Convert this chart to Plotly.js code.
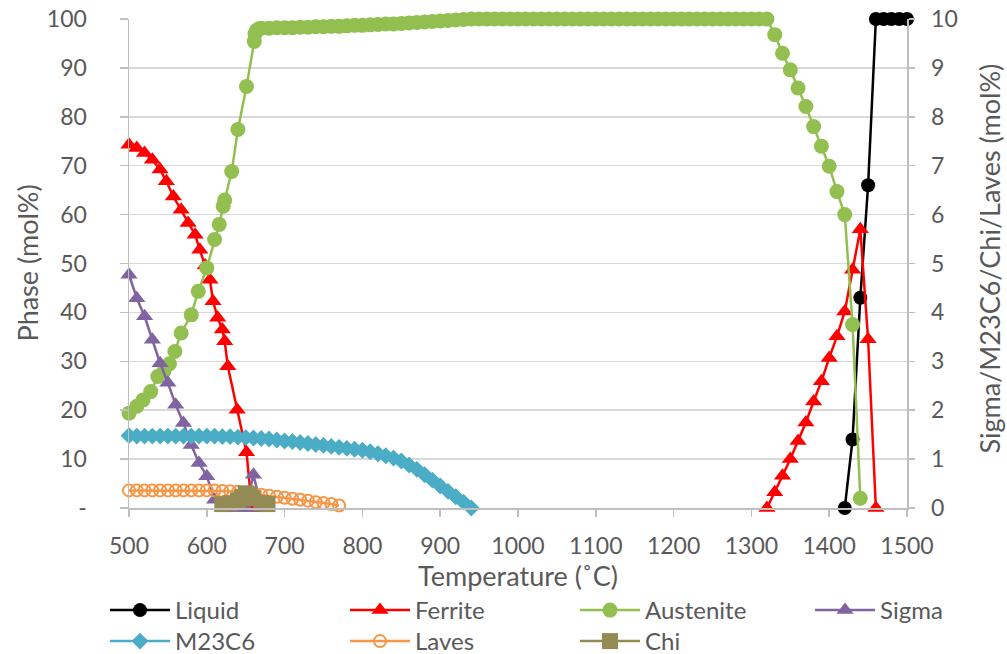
<!DOCTYPE html>
<html>
<head>
<meta charset="utf-8">
<script src="https://cdn.plot.ly/plotly-3.0.1.min.js"></script>
<style>html,body{margin:0;padding:0;background:#fff;}#chart{width:1007px;height:654px;}</style>
</head>
<body>
<div id="chart"></div>
<script>
// ---- Data ----
var liquidT = [1420, 1430, 1440, 1450, 1460, 1470, 1480, 1490, 1500];
var liquidV = [0, 14, 43, 66, 100, 100, 100, 100, 100];

var ferriteT = [500, 510, 520, 530, 540, 548, 557, 567, 576, 585, 591, 598, 604, 608, 614, 620, 623, 627, 639, 651, 658,
                null,
                1320, 1330, 1340, 1350, 1360, 1370, 1380, 1390, 1400, 1410, 1420, 1430, 1440, 1450, 1460];
var ferriteV = [74.3, 73.6, 72.6, 71.2, 69.2, 66.8, 63.7, 61, 58.3, 55.9, 52.8, 49.6, 46.7, 42.3, 38.9, 36.5, 34.1, 29, 20.1, 11.4, 0,
                null,
                0, 3.2, 6.6, 10, 13.7, 17.5, 21.8, 25.9, 30.7, 35.1, 40.2, 48.7, 57, 34.5, 0];

var austeniteT = [500, 510, 518, 528, 537, 545, 552, 559, 567, 580, 589, 600, 610, 616, 621, 623, 632, 640, 651, 661, 662, 664, 667,
                  670, 680, 690, 700, 710, 720, 730, 740, 750, 760, 770, 780, 790, 800, 810, 820, 830, 840, 850, 860, 870, 880,
                  890, 900, 910, 920, 930, 940, 950, 960, 970, 980, 990, 1000, 1010, 1020, 1030, 1040, 1050, 1060, 1070, 1080,
                  1090, 1100, 1110, 1120, 1130, 1140, 1150, 1160, 1170, 1180, 1190, 1200, 1210, 1220, 1230, 1240, 1250, 1260,
                  1270, 1280, 1290, 1300, 1310, 1320, 1330, 1340, 1350, 1360, 1370, 1380, 1390, 1400, 1410, 1420, 1430, 1440];
var austeniteV = [19.4, 20.8, 22.1, 23.8, 26.9, 28, 29.5, 32, 35.8, 39.5, 44.3, 49.1, 54.9, 58, 61.7, 63, 68.8, 77.4, 86.2, 95.4, 97, 97.7, 98,
                  98.1, 98.1, 98.2, 98.2, 98.2, 98.3, 98.3, 98.4, 98.4, 98.5, 98.5, 98.6, 98.7, 98.7, 98.8, 98.9, 99.0, 99.0, 99.1, 99.2, 99.3, 99.4,
                  99.5, 99.6, 99.7, 99.8, 99.9, 100, 100, 100, 100, 100, 100, 100, 100, 100, 100, 100, 100, 100, 100, 100,
                  100, 100, 100, 100, 100, 100, 100, 100, 100, 100, 100, 100, 100, 100, 100, 100, 100, 100,
                  100, 100, 100, 100, 100, 100, 96.8, 93, 89.6, 85.9, 82.1, 78, 74, 69.9, 64.7, 60, 37.5, 2];

var sigmaT = [500, 510, 520, 530, 540, 550, 560, 570, 580, 590, 600, 610, 620, 630, 640, 650, 660, 670];
var sigmaV = [4.77, 4.29, 3.92, 3.44, 2.96, 2.56, 2.11, 1.74, 1.29, 0.92, 0.65, 0.17, 0, 0, 0, 0, 0.68, 0];

var m23c6T = [500, 510, 520, 530, 540, 550, 560, 570, 580, 590, 600, 610, 620, 630, 640, 650, 660, 670, 680, 690, 700,
              710, 720, 730, 740, 750, 760, 770, 780, 790, 800, 810, 820, 830, 840, 850, 860, 870, 880, 890, 900, 910, 920, 930, 940];
var m23c6V = [1.48, 1.47, 1.47, 1.47, 1.47, 1.47, 1.47, 1.47, 1.47, 1.47, 1.47, 1.47, 1.46, 1.46, 1.45, 1.44, 1.43, 1.42, 1.41, 1.39, 1.37,
              1.36, 1.34, 1.32, 1.30, 1.28, 1.26, 1.24, 1.22, 1.20, 1.18, 1.15, 1.11, 1.07, 1.02, 0.96, 0.88, 0.79, 0.68, 0.57, 0.45, 0.34, 0.23, 0.12, 0];

var lavesT = [500, 510, 520, 530, 540, 550, 560, 570, 580, 590, 600, 610, 620, 630, 640, 650, 660, 670, 680, 690, 700, 710, 720, 730, 740, 750, 760, 770];
var lavesV = [0.36, 0.36, 0.36, 0.36, 0.36, 0.36, 0.36, 0.36, 0.36, 0.36, 0.36, 0.36, 0.35, 0.34, 0.33, 0.31, 0.29, 0.27, 0.25, 0.23, 0.21, 0.19, 0.17, 0.15, 0.12, 0.1, 0.08, 0.05];

var chiT = [620, 630, 640, 645, 650, 655, 660, 670, 678];
var chiV = [0.08, 0.1, 0.15, 0.22, 0.3, 0.28, 0.2, 0.1, 0.08];

var xTicks = [500, 600, 700, 800, 900, 1000, 1100, 1200, 1300, 1400, 1500];
var yTickVals = [0, 10, 20, 30, 40, 50, 60, 70, 80, 90, 100];
var yTickText = ['-', '10', '20', '30', '40', '50', '60', '70', '80', '90', '100'];
var y2TickVals = [0, 1, 2, 3, 4, 5, 6, 7, 8, 9, 10];

var xTitle = 'Temperature (˚C)';
var yTitle = 'Phase (mol%)';
var y2Title = 'Sigma/M23C6/Chi/Laves (mol%)';

// ---- Styles ----
var FONT = 'Lato, "Open Sans", sans-serif';
var TXT = '#595959';
var AX = '#bfbfbf';

function tr(name, x, y, color, symbol, size, axis, legendId, extra) {
  var t = {
    type: 'scatter', mode: 'lines+markers', name: name, x: x, y: y,
    yaxis: axis, legend: legendId, cliponaxis: false, connectgaps: false,
    line: {color: color, width: 2.5},
    marker: {color: color, symbol: symbol, size: size}
  };
  if (extra) { for (var k in extra) t.marker[k] = extra[k]; }
  return t;
}

var data = [
  tr('Liquid', liquidT, liquidV, '#000000', 'circle', 14, 'y', 'legend'),
  tr('Ferrite', ferriteT, ferriteV, '#ff0000', 'triangle-up', 15, 'y', 'legend2'),
  tr('Austenite', austeniteT, austeniteV, '#92bf50', 'circle', 15, 'y', 'legend3'),
  tr('Sigma', sigmaT, sigmaV, '#8064a2', 'triangle-up', 15, 'y2', 'legend4'),
  tr('M23C6', m23c6T, m23c6V, '#4bacc6', 'diamond', 13, 'y2', 'legend5'),
  tr('Laves', lavesT, lavesV, '#f79646', 'circle-open', 12, 'y2', 'legend6', {line: {width: 2, color: '#f79646'}}),
  tr('Chi', chiT, chiV, '#948a54', 'square', 16, 'y2', 'legend7')
];

function leg(px, topPx) {
  return {
    orientation: 'v', xref: 'container', yref: 'container',
    x: px / 1007, xanchor: 'left', y: 1 - topPx / 654, yanchor: 'top',
    font: {family: FONT, size: 24, color: TXT},
    itemwidth: 60, tracegroupgap: 0,
    bgcolor: 'rgba(0,0,0,0)', borderwidth: 0, traceorder: 'normal'
  };
}

var layout = {
  width: 1007, height: 654,
  margin: {l: 129, r: 100, t: 19, b: 146, autoexpand: false},
  paper_bgcolor: '#ffffff', plot_bgcolor: '#ffffff',
  font: {family: FONT, color: TXT, size: 23},
  showlegend: true,
  xaxis: {
    range: [500, 1500], tickvals: xTicks, ticktext: xTicks.map(String),
    showgrid: false, zeroline: false,
    showline: true, linecolor: AX, linewidth: 1.5,
    ticks: 'outside', ticklen: 7, tickcolor: AX, tickwidth: 1.5,
    tickfont: {family: FONT, size: 23, color: TXT},
    ticklabelstandoff: 10,
    title: {text: xTitle, font: {family: FONT, size: 27, color: TXT}, standoff: 4}
  },
  yaxis: {
    range: [0, 100], tickvals: yTickVals, ticktext: yTickText,
    showgrid: true, gridcolor: '#d9d9d9', gridwidth: 1.5, zeroline: false,
    showline: true, linecolor: AX, linewidth: 1.5,
    ticks: 'outside', ticklen: 8, tickcolor: AX, tickwidth: 1.5,
    tickfont: {family: FONT, size: 23, color: TXT},
    ticklabelstandoff: 28
  },
  yaxis2: {
    overlaying: 'y', side: 'right',
    range: [0, 10], tickvals: y2TickVals, ticktext: y2TickVals.map(String),
    showgrid: false, zeroline: false,
    showline: true, linecolor: AX, linewidth: 1.5,
    ticks: 'outside', ticklen: 6, tickcolor: AX, tickwidth: 1.5,
    tickfont: {family: FONT, size: 23, color: TXT},
    ticklabelstandoff: 12
  },
  annotations: [
    {text: yTitle, xref: 'paper', yref: 'paper', x: (27 - 129) / 778, y: 0.5, xanchor: 'center', yanchor: 'middle',
     textangle: -90, showarrow: false, font: {family: FONT, size: 27, color: TXT}},
    {text: y2Title, xref: 'paper', yref: 'paper', x: (990 - 129) / 778, y: 0.51, xanchor: 'center', yanchor: 'middle',
     textangle: -90, showarrow: false, font: {family: FONT, size: 27, color: TXT}}
  ],
  legend: leg(105, 588),
  legend2: leg(345, 588),
  legend3: leg(575, 588),
  legend4: leg(810, 588),
  legend5: leg(105, 619),
  legend6: leg(345, 619),
  legend7: leg(575, 619)
};

Plotly.newPlot('chart', data, layout, {displayModeBar: false, staticPlot: true});
</script>
</body>
</html>
